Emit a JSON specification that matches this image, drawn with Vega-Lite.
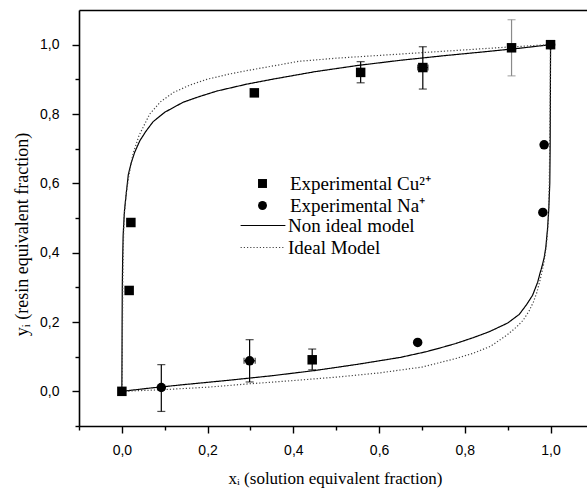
{
  "$schema": "https://vega.github.io/schema/vega-lite/v6.json",
  "width": 508,
  "height": 416,
  "autosize": {"type": "none"},
  "padding": {"left": 79, "top": 10, "right": 0, "bottom": 63},
  "background": "white",
  "config": {
    "view": {"stroke": null},
    "axis": {
      "grid": false,
      "domainColor": "black",
      "domainWidth": 1.6,
      "tickColor": "black",
      "tickWidth": 1.4,
      "labelFont": "Liberation Sans",
      "labelFontSize": 14,
      "labelColor": "black",
      "titleFont": "Liberation Serif",
      "titleFontSize": 17,
      "titleFontWeight": "normal",
      "titleColor": "black"
    }
  },
  "datasets": {
    "curves": [
      {"i": 1, "branch": "NU", "model": "Non ideal model", "x": 0, "y": 0},
      {"i": 2, "branch": "NU", "model": "Non ideal model", "x": 0.0003, "y": 0.1},
      {"i": 3, "branch": "NU", "model": "Non ideal model", "x": 0.0006, "y": 0.2},
      {"i": 4, "branch": "NU", "model": "Non ideal model", "x": 0.001, "y": 0.3},
      {"i": 5, "branch": "NU", "model": "Non ideal model", "x": 0.0018, "y": 0.38},
      {"i": 6, "branch": "NU", "model": "Non ideal model", "x": 0.003, "y": 0.45},
      {"i": 7, "branch": "NU", "model": "Non ideal model", "x": 0.006, "y": 0.52},
      {"i": 8, "branch": "NU", "model": "Non ideal model", "x": 0.011, "y": 0.58},
      {"i": 9, "branch": "NU", "model": "Non ideal model", "x": 0.015, "y": 0.625},
      {"i": 10, "branch": "NU", "model": "Non ideal model", "x": 0.022, "y": 0.66},
      {"i": 11, "branch": "NU", "model": "Non ideal model", "x": 0.03, "y": 0.69},
      {"i": 12, "branch": "NU", "model": "Non ideal model", "x": 0.042, "y": 0.723},
      {"i": 13, "branch": "NU", "model": "Non ideal model", "x": 0.056, "y": 0.75},
      {"i": 14, "branch": "NU", "model": "Non ideal model", "x": 0.073, "y": 0.778},
      {"i": 15, "branch": "NU", "model": "Non ideal model", "x": 0.1, "y": 0.805},
      {"i": 16, "branch": "NU", "model": "Non ideal model", "x": 0.143, "y": 0.834},
      {"i": 17, "branch": "NU", "model": "Non ideal model", "x": 0.18, "y": 0.85},
      {"i": 18, "branch": "NU", "model": "Non ideal model", "x": 0.221, "y": 0.866},
      {"i": 19, "branch": "NU", "model": "Non ideal model", "x": 0.291, "y": 0.886},
      {"i": 20, "branch": "NU", "model": "Non ideal model", "x": 0.35, "y": 0.9},
      {"i": 21, "branch": "NU", "model": "Non ideal model", "x": 0.45, "y": 0.922},
      {"i": 22, "branch": "NU", "model": "Non ideal model", "x": 0.55, "y": 0.94},
      {"i": 23, "branch": "NU", "model": "Non ideal model", "x": 0.65, "y": 0.955},
      {"i": 24, "branch": "NU", "model": "Non ideal model", "x": 0.75, "y": 0.968},
      {"i": 25, "branch": "NU", "model": "Non ideal model", "x": 0.85, "y": 0.98},
      {"i": 26, "branch": "NU", "model": "Non ideal model", "x": 0.93, "y": 0.99},
      {"i": 27, "branch": "NU", "model": "Non ideal model", "x": 1, "y": 1},
      {"i": 1, "branch": "NL", "model": "Non ideal model", "x": 0, "y": 0},
      {"i": 2, "branch": "NL", "model": "Non ideal model", "x": 0.07, "y": 0.01},
      {"i": 3, "branch": "NL", "model": "Non ideal model", "x": 0.15, "y": 0.02},
      {"i": 4, "branch": "NL", "model": "Non ideal model", "x": 0.25, "y": 0.032},
      {"i": 5, "branch": "NL", "model": "Non ideal model", "x": 0.35, "y": 0.045},
      {"i": 6, "branch": "NL", "model": "Non ideal model", "x": 0.45, "y": 0.06},
      {"i": 7, "branch": "NL", "model": "Non ideal model", "x": 0.55, "y": 0.078},
      {"i": 8, "branch": "NL", "model": "Non ideal model", "x": 0.65, "y": 0.098},
      {"i": 9, "branch": "NL", "model": "Non ideal model", "x": 0.709, "y": 0.114},
      {"i": 10, "branch": "NL", "model": "Non ideal model", "x": 0.742, "y": 0.125},
      {"i": 11, "branch": "NL", "model": "Non ideal model", "x": 0.779, "y": 0.138},
      {"i": 12, "branch": "NL", "model": "Non ideal model", "x": 0.82, "y": 0.155},
      {"i": 13, "branch": "NL", "model": "Non ideal model", "x": 0.857, "y": 0.172},
      {"i": 14, "branch": "NL", "model": "Non ideal model", "x": 0.9, "y": 0.197},
      {"i": 15, "branch": "NL", "model": "Non ideal model", "x": 0.927, "y": 0.222},
      {"i": 16, "branch": "NL", "model": "Non ideal model", "x": 0.944, "y": 0.25},
      {"i": 17, "branch": "NL", "model": "Non ideal model", "x": 0.958, "y": 0.277},
      {"i": 18, "branch": "NL", "model": "Non ideal model", "x": 0.97, "y": 0.315},
      {"i": 19, "branch": "NL", "model": "Non ideal model", "x": 0.975, "y": 0.339},
      {"i": 20, "branch": "NL", "model": "Non ideal model", "x": 0.98, "y": 0.36},
      {"i": 21, "branch": "NL", "model": "Non ideal model", "x": 0.985, "y": 0.385},
      {"i": 22, "branch": "NL", "model": "Non ideal model", "x": 0.989, "y": 0.416},
      {"i": 23, "branch": "NL", "model": "Non ideal model", "x": 0.993, "y": 0.47},
      {"i": 24, "branch": "NL", "model": "Non ideal model", "x": 0.996, "y": 0.53},
      {"i": 25, "branch": "NL", "model": "Non ideal model", "x": 0.9982, "y": 0.6},
      {"i": 26, "branch": "NL", "model": "Non ideal model", "x": 0.999, "y": 0.7},
      {"i": 27, "branch": "NL", "model": "Non ideal model", "x": 0.9994, "y": 0.8},
      {"i": 28, "branch": "NL", "model": "Non ideal model", "x": 0.9997, "y": 0.9},
      {"i": 29, "branch": "NL", "model": "Non ideal model", "x": 1, "y": 1},
      {"i": 1, "branch": "IU", "model": "Ideal Model", "x": 0, "y": 0},
      {"i": 2, "branch": "IU", "model": "Ideal Model", "x": 0.001, "y": 0.1},
      {"i": 3, "branch": "IU", "model": "Ideal Model", "x": 0.0015, "y": 0.2},
      {"i": 4, "branch": "IU", "model": "Ideal Model", "x": 0.002, "y": 0.3},
      {"i": 5, "branch": "IU", "model": "Ideal Model", "x": 0.003, "y": 0.4},
      {"i": 6, "branch": "IU", "model": "Ideal Model", "x": 0.005, "y": 0.5},
      {"i": 7, "branch": "IU", "model": "Ideal Model", "x": 0.01, "y": 0.57},
      {"i": 8, "branch": "IU", "model": "Ideal Model", "x": 0.017, "y": 0.627},
      {"i": 9, "branch": "IU", "model": "Ideal Model", "x": 0.026, "y": 0.685},
      {"i": 10, "branch": "IU", "model": "Ideal Model", "x": 0.04, "y": 0.738},
      {"i": 11, "branch": "IU", "model": "Ideal Model", "x": 0.065, "y": 0.8},
      {"i": 12, "branch": "IU", "model": "Ideal Model", "x": 0.09, "y": 0.835},
      {"i": 13, "branch": "IU", "model": "Ideal Model", "x": 0.12, "y": 0.862},
      {"i": 14, "branch": "IU", "model": "Ideal Model", "x": 0.16, "y": 0.884},
      {"i": 15, "branch": "IU", "model": "Ideal Model", "x": 0.198, "y": 0.9},
      {"i": 16, "branch": "IU", "model": "Ideal Model", "x": 0.25, "y": 0.915},
      {"i": 17, "branch": "IU", "model": "Ideal Model", "x": 0.291, "y": 0.925},
      {"i": 18, "branch": "IU", "model": "Ideal Model", "x": 0.35, "y": 0.938},
      {"i": 19, "branch": "IU", "model": "Ideal Model", "x": 0.413, "y": 0.952},
      {"i": 20, "branch": "IU", "model": "Ideal Model", "x": 0.5, "y": 0.961},
      {"i": 21, "branch": "IU", "model": "Ideal Model", "x": 0.6, "y": 0.969},
      {"i": 22, "branch": "IU", "model": "Ideal Model", "x": 0.7, "y": 0.977},
      {"i": 23, "branch": "IU", "model": "Ideal Model", "x": 0.8, "y": 0.985},
      {"i": 24, "branch": "IU", "model": "Ideal Model", "x": 0.9, "y": 0.993},
      {"i": 25, "branch": "IU", "model": "Ideal Model", "x": 1, "y": 1},
      {"i": 1, "branch": "IL", "model": "Ideal Model", "x": 0, "y": 0},
      {"i": 2, "branch": "IL", "model": "Ideal Model", "x": 0.1, "y": 0.005},
      {"i": 3, "branch": "IL", "model": "Ideal Model", "x": 0.2, "y": 0.012},
      {"i": 4, "branch": "IL", "model": "Ideal Model", "x": 0.3, "y": 0.022},
      {"i": 5, "branch": "IL", "model": "Ideal Model", "x": 0.4, "y": 0.031},
      {"i": 6, "branch": "IL", "model": "Ideal Model", "x": 0.5, "y": 0.041},
      {"i": 7, "branch": "IL", "model": "Ideal Model", "x": 0.6, "y": 0.053},
      {"i": 8, "branch": "IL", "model": "Ideal Model", "x": 0.7, "y": 0.07},
      {"i": 9, "branch": "IL", "model": "Ideal Model", "x": 0.742, "y": 0.083},
      {"i": 10, "branch": "IL", "model": "Ideal Model", "x": 0.78, "y": 0.095},
      {"i": 11, "branch": "IL", "model": "Ideal Model", "x": 0.82, "y": 0.11},
      {"i": 12, "branch": "IL", "model": "Ideal Model", "x": 0.86, "y": 0.13},
      {"i": 13, "branch": "IL", "model": "Ideal Model", "x": 0.898, "y": 0.162},
      {"i": 14, "branch": "IL", "model": "Ideal Model", "x": 0.92, "y": 0.185},
      {"i": 15, "branch": "IL", "model": "Ideal Model", "x": 0.936, "y": 0.205},
      {"i": 16, "branch": "IL", "model": "Ideal Model", "x": 0.95, "y": 0.232},
      {"i": 17, "branch": "IL", "model": "Ideal Model", "x": 0.96, "y": 0.258},
      {"i": 18, "branch": "IL", "model": "Ideal Model", "x": 0.968, "y": 0.285},
      {"i": 19, "branch": "IL", "model": "Ideal Model", "x": 0.975, "y": 0.318},
      {"i": 20, "branch": "IL", "model": "Ideal Model", "x": 0.98, "y": 0.345},
      {"i": 21, "branch": "IL", "model": "Ideal Model", "x": 0.984, "y": 0.368},
      {"i": 22, "branch": "IL", "model": "Ideal Model", "x": 0.988, "y": 0.4},
      {"i": 23, "branch": "IL", "model": "Ideal Model", "x": 0.99, "y": 0.42},
      {"i": 24, "branch": "IL", "model": "Ideal Model", "x": 0.993, "y": 0.46},
      {"i": 25, "branch": "IL", "model": "Ideal Model", "x": 0.995, "y": 0.5},
      {"i": 26, "branch": "IL", "model": "Ideal Model", "x": 0.997, "y": 0.6},
      {"i": 27, "branch": "IL", "model": "Ideal Model", "x": 0.998, "y": 0.7},
      {"i": 28, "branch": "IL", "model": "Ideal Model", "x": 0.999, "y": 0.8},
      {"i": 29, "branch": "IL", "model": "Ideal Model", "x": 0.9995, "y": 0.9},
      {"i": 30, "branch": "IL", "model": "Ideal Model", "x": 1, "y": 1}
    ],
    "points": [
      {"series": "Experimental Cu²⁺", "x": 0, "y": 0},
      {"series": "Experimental Cu²⁺", "x": 0.017, "y": 0.291},
      {"series": "Experimental Cu²⁺", "x": 0.021, "y": 0.487},
      {"series": "Experimental Cu²⁺", "x": 0.309, "y": 0.861},
      {"series": "Experimental Cu²⁺", "x": 0.444, "y": 0.091},
      {"series": "Experimental Cu²⁺", "x": 0.557, "y": 0.92},
      {"series": "Experimental Cu²⁺", "x": 0.702, "y": 0.934},
      {"series": "Experimental Cu²⁺", "x": 0.909, "y": 0.991},
      {"series": "Experimental Cu²⁺", "x": 1, "y": 1},
      {"series": "Experimental Na⁺", "x": 0.092, "y": 0.011},
      {"series": "Experimental Na⁺", "x": 0.298, "y": 0.088},
      {"series": "Experimental Na⁺", "x": 0.69, "y": 0.141},
      {"series": "Experimental Na⁺", "x": 0.982, "y": 0.516},
      {"series": "Experimental Na⁺", "x": 0.985, "y": 0.711},
      {"series": "Experimental Na⁺", "x": 1, "y": 1}
    ],
    "yerr": [
      {"x": 0.092, "lo": -0.058, "hi": 0.077},
      {"x": 0.298, "lo": 0.027, "hi": 0.149},
      {"x": 0.444, "lo": 0.062, "hi": 0.122},
      {"x": 0.557, "lo": 0.89, "hi": 0.951},
      {"x": 0.702, "lo": 0.872, "hi": 0.994},
      {"x": 0.909, "lo": 0.91, "hi": 1.072}
    ],
    "xerr": [
      {"y": 0.088, "xlo": 0.285, "xhi": 0.311},
      {"y": 0.934, "xlo": 0.69, "xhi": 0.714}
    ]
  },
  "resolve": {"axis": {"x": "independent", "y": "independent"}},
  "layer": [
    {
      "data": {"name": "curves"},
      "mark": {"type": "line", "strokeWidth": 1.2, "interpolate": "linear"},
      "encoding": {
        "x": {
          "field": "x", "type": "quantitative",
          "scale": {"domain": [-0.1, 1.085], "nice": false, "zero": false},
          "axis": {
            "orient": "bottom",
            "values": [-0.1, 0, 0.1, 0.2, 0.3, 0.4, 0.5, 0.6, 0.7, 0.8, 0.9, 1.0],
            "tickSize": {"condition": {"test": "abs(round(datum.value*10)) % 2 == 0", "value": 7}, "value": 4},
            "labelExpr": "abs(round(datum.value*10)) % 2 == 0 ? replace(format(datum.value, '.1f'), '.', ',') : ''",
            "labelPadding": 10,
            "labelFlush": false,
            "labelOverlap": false,
            "title": "xᵢ (solution equivalent fraction)",
            "titleX": 256,
            "titleY": 57,
            "titleAlign": "center",
            "titleBaseline": "alphabetic"
          }
        },
        "y": {
          "field": "y", "type": "quantitative",
          "scale": {"domain": [-0.1, 1.1], "nice": false, "zero": false},
          "axis": {
            "orient": "left",
            "values": [-0.1, 0, 0.1, 0.2, 0.3, 0.4, 0.5, 0.6, 0.7, 0.8, 0.9, 1.0],
            "tickSize": {"condition": {"test": "abs(round(datum.value*10)) % 2 == 0", "value": 7}, "value": 4},
            "labelExpr": "abs(round(datum.value*10)) % 2 == 0 ? replace(format(datum.value, '.1f'), '.', ',') : ''",
            "labelPadding": 13,
            "labelFlush": false,
            "labelOverlap": false,
            "title": "yᵢ (resin equivalent fraction)",
            "titleFontSize": 18,
            "titleX": -57,
            "titleY": 224,
            "titleAngle": 270,
            "titleAlign": "center",
            "titleBaseline": "middle"
          }
        },
        "detail": {"field": "branch"},
        "order": {"field": "i", "type": "quantitative"},
        "strokeDash": {
          "field": "model", "type": "nominal",
          "scale": {"domain": ["Non ideal model", "Ideal Model"], "range": [[1, 0], [1.2, 2]]},
          "legend": {
            "orient": "none", "legendX": 174.5, "legendY": 206, "title": null,
            "symbolType": "M-2.8,0L2.8,0", "symbolSize": 256, "symbolStrokeWidth": 1.2,
            "symbolFillColor": "transparent",
            "labelFont": "Liberation Serif", "labelFontSize": 19, "labelColor": "black",
            "labelOffset": 15.5, "rowPadding": 2, "padding": 0
          }
        },
        "color": {
          "field": "model", "type": "nominal",
          "scale": {"domain": ["Non ideal model", "Ideal Model"], "range": ["black", "#444444"]},
          "legend": {
            "orient": "none", "legendX": 174.5, "legendY": 206, "title": null,
            "symbolType": "M-2.8,0L2.8,0", "symbolSize": 256, "symbolStrokeWidth": 1.2,
            "symbolFillColor": "transparent",
            "labelFont": "Liberation Serif", "labelFontSize": 19, "labelColor": "black",
            "labelOffset": 15.5, "rowPadding": 2, "padding": 0
          }
        }
      }
    },
    {
      "data": {"name": "yerr"},
      "transform": [{"filter": "datum.x < 0.9"}],
      "mark": {"type": "errorbar", "ticks": {"size": 8}, "thickness": 1.2, "color": "black"},
      "encoding": {
        "x": {"field": "x", "type": "quantitative", "scale": {"domain": [-0.1, 1.085], "nice": false, "zero": false}, "axis": null},
        "y": {"field": "lo", "type": "quantitative", "scale": {"domain": [-0.1, 1.1], "nice": false, "zero": false}, "axis": null},
        "y2": {"field": "hi"}
      }
    },
    {
      "data": {"name": "yerr"},
      "transform": [{"filter": "datum.x >= 0.9"}],
      "mark": {"type": "errorbar", "ticks": {"size": 8}, "thickness": 1.2, "color": "#8a8a8a"},
      "encoding": {
        "x": {"field": "x", "type": "quantitative", "scale": {"domain": [-0.1, 1.085], "nice": false, "zero": false}, "axis": null},
        "y": {"field": "lo", "type": "quantitative", "scale": {"domain": [-0.1, 1.1], "nice": false, "zero": false}, "axis": null},
        "y2": {"field": "hi"}
      }
    },
    {
      "data": {"name": "xerr"},
      "mark": {"type": "errorbar", "ticks": {"size": 6}, "thickness": 1.2, "color": "black"},
      "encoding": {
        "y": {"field": "y", "type": "quantitative", "scale": {"domain": [-0.1, 1.1], "nice": false, "zero": false}, "axis": null},
        "x": {"field": "xlo", "type": "quantitative", "scale": {"domain": [-0.1, 1.085], "nice": false, "zero": false}, "axis": null},
        "x2": {"field": "xhi"}
      }
    },
    {
      "data": {"name": "points"},
      "mark": {"type": "point", "filled": true, "color": "black", "opacity": 1, "size": 90},
      "encoding": {
        "x": {
          "field": "x", "type": "quantitative",
          "scale": {"domain": [-0.1, 1.085], "nice": false, "zero": false},
          "axis": {"orient": "top", "labels": false, "ticks": false, "title": null, "domain": true, "domainWidth": 1.4}
        },
        "y": {"field": "y", "type": "quantitative", "scale": {"domain": [-0.1, 1.1], "nice": false, "zero": false}, "axis": null},
        "shape": {
          "field": "series", "type": "nominal",
          "scale": {"domain": ["Experimental Cu²⁺", "Experimental Na⁺"], "range": ["square", "circle"]},
          "legend": {
            "orient": "none", "legendX": 174, "legendY": 164, "title": null,
            "symbolFillColor": "black", "symbolStrokeColor": "black", "symbolSize": 80,
            "labelFont": "Liberation Serif", "labelFontSize": 19, "labelColor": "black",
            "labelOffset": 18, "rowPadding": 2, "padding": 0
          }
        }
      }
    }
  ]
}
